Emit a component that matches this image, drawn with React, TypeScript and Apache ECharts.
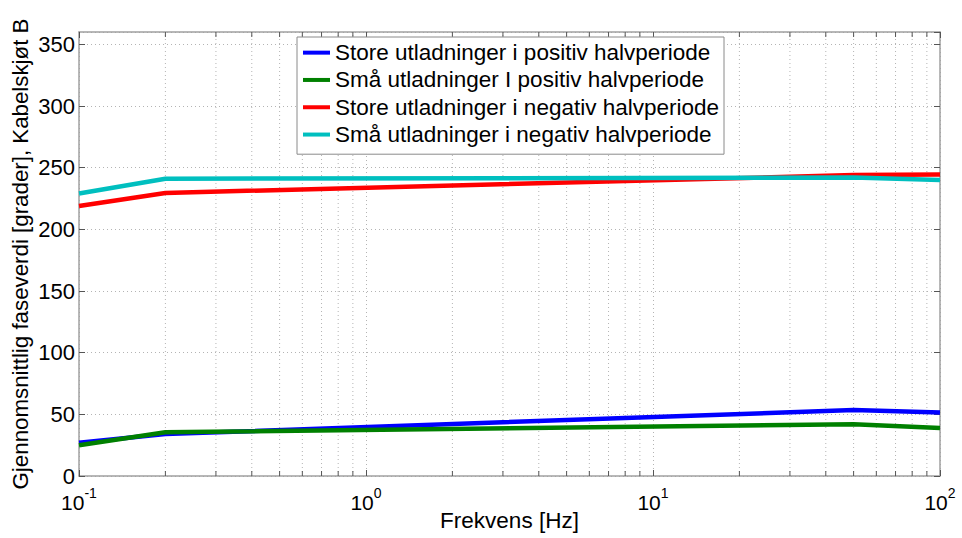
import React, { useEffect, useRef } from "react";
import * as echarts from "echarts";

const freq = [0.1, 0.2, 50, 100];
const storePos = [27, 34, 53.5, 51.5];
const smaPos = [25, 35.5, 42, 39];
const storeNeg = [219, 229.5, 244, 244.5];
const smaNeg = [229, 241, 242, 240];
const seriesNames = [
  "Store utladninger i positiv halvperiode",
  "Små utladninger I positiv halvperiode",
  "Store utladninger i negativ halvperiode",
  "Små utladninger i negativ halvperiode",
];
const seriesColors = ["#0000ff", "#008000", "#ff0000", "#00bfbf"];
const minorTicks = [
  0.2, 0.3, 0.4, 0.5, 0.6, 0.7, 0.8, 0.9,
  2, 3, 4, 5, 6, 7, 8, 9,
  20, 30, 40, 50, 60, 70, 80, 90,
];
const yMin = 0;
const yMax = 360;
const yStep = 50;

const FONT = "Liberation Sans, Arial, sans-serif";
const AXIS_COLOR = "#a0a0a0";
const GRID_COLOR = "#b4b4b4";
const TICK_COLOR = "#555555";

export default function App() {
  const ref = useRef<HTMLDivElement>(null);
  useEffect(() => {
    const chart = echarts.init(ref.current!, null, { renderer: "svg" });
    const allData = [storePos, smaPos, storeNeg, smaNeg];
    const lineSeries = allData.map((vals, i) => ({
      name: seriesNames[i],
      type: "line",
      data: freq.map((f, j) => [f, vals[j]]),
      showSymbol: false,
      symbol: "none",
      lineStyle: { color: seriesColors[i], width: 4.5 },
      itemStyle: { color: seriesColors[i] },
      z: 3,
    }));
    const option: any = {
      animation: false,
      backgroundColor: "#ffffff",
      textStyle: { fontFamily: FONT },
      grid: { left: 79, right: 22, top: 32, bottom: 62, containLabel: false, outerBoundsMode: "none" },
      legend: {
        data: seriesNames,
        orient: "vertical",
        left: 297,
        top: 37,
        icon: "rect",
        itemWidth: 27,
        itemHeight: 4,
        itemGap: 0,
        padding: [2, 5, 6, 6],
        backgroundColor: "#ffffff",
        borderColor: "#8a8a8a",
        borderWidth: 1,
        textStyle: { fontSize: 22.5, color: "#000", fontFamily: FONT, lineHeight: 27.3 },
      },
      xAxis: [
        {
          type: "log",
          logBase: 10,
          min: 0.1,
          max: 100,
          position: "bottom",
          name: "Frekvens [Hz]",
          nameLocation: "middle",
          nameGap: 33,
          nameMoveOverlap: false,
          nameTextStyle: { fontSize: 22.5, color: "#000", fontFamily: FONT, verticalAlign: "top" },
          axisLine: { show: true, onZero: false, lineStyle: { color: AXIS_COLOR, width: 1.5 } },
          axisTick: { show: true, inside: true, length: 6, lineStyle: { color: TICK_COLOR } },
          splitLine: { show: true, lineStyle: { color: GRID_COLOR, type: [1, 3], width: 1 } },
          axisLabel: {
            margin: 8,
            color: "#000",
            formatter: (v: number) => `{b|10}{s|${Math.round(Math.log10(v))}}`,
            rich: {
              b: { fontSize: 21, color: "#000", fontFamily: FONT, padding: [8, 0, 0, 0] },
              s: { fontSize: 14, color: "#000", fontFamily: FONT, padding: [0, 0, 12, 0] },
            },
          },
        },
        {
          type: "log",
          logBase: 10,
          min: 0.1,
          max: 100,
          position: "top",
          axisLine: { show: true, onZero: false, lineStyle: { color: AXIS_COLOR, width: 1.5 } },
          axisTick: { show: true, inside: true, length: 6, lineStyle: { color: TICK_COLOR } },
          splitLine: { show: false },
          axisLabel: { show: false },
        },
      ],
      yAxis: [
        {
          type: "value",
          min: yMin,
          max: yMax,
          interval: yStep,
          position: "left",
          name: "Gjennomsnittlig faseverdi [grader], Kabelskjøt B",
          nameLocation: "middle",
          nameGap: 48,
          nameMoveOverlap: false,
          nameTextStyle: { fontSize: 22.3, color: "#000", fontFamily: FONT },
          axisLine: { show: true, onZero: false, lineStyle: { color: AXIS_COLOR, width: 1.5 } },
          axisTick: { show: true, inside: true, length: 6, lineStyle: { color: TICK_COLOR } },
          splitLine: { show: true, lineStyle: { color: GRID_COLOR, type: [1, 3], width: 1 } },
          axisLabel: { fontSize: 22, color: "#000", margin: 4, showMaxLabel: false, fontFamily: FONT },
        },
        {
          type: "value",
          min: yMin,
          max: yMax,
          interval: yStep,
          position: "right",
          axisLine: { show: true, onZero: false, lineStyle: { color: AXIS_COLOR, width: 1.5 } },
          axisTick: { show: true, inside: true, length: 6, lineStyle: { color: TICK_COLOR } },
          splitLine: { show: false },
          axisLabel: { show: false },
        },
      ],
      series: [
        {
          type: "custom",
          name: "minor",
          silent: true,
          z: 1,
          xAxisIndex: 0,
          yAxisIndex: 0,
          data: minorTicks.map((t) => [t, yMin]),
          renderItem: (params: any, api: any) => {
            const x = api.value(0);
            const pb = api.coord([x, yMin]);
            const pt = api.coord([x, yMax]);
            return {
              type: "group",
              children: [
                {
                  type: "line",
                  shape: { x1: pb[0], y1: pb[1], x2: pb[0], y2: pt[1] },
                  style: { stroke: GRID_COLOR, lineWidth: 1, lineDash: [1, 3] },
                },
                {
                  type: "line",
                  shape: { x1: pb[0], y1: pb[1], x2: pb[0], y2: pb[1] - 5 },
                  style: { stroke: TICK_COLOR, lineWidth: 1 },
                },
                {
                  type: "line",
                  shape: { x1: pb[0], y1: pt[1], x2: pb[0], y2: pt[1] + 5 },
                  style: { stroke: TICK_COLOR, lineWidth: 1 },
                },
              ],
            };
          },
        },
        ...lineSeries,
      ],
    };
    chart.setOption(option);
    return () => chart.dispose();
  }, []);
  return (
    <div
      ref={ref}
      style={{ position: "fixed", left: 0, top: 0, width: 962, height: 538, background: "#fff" }}
    />
  );
}
